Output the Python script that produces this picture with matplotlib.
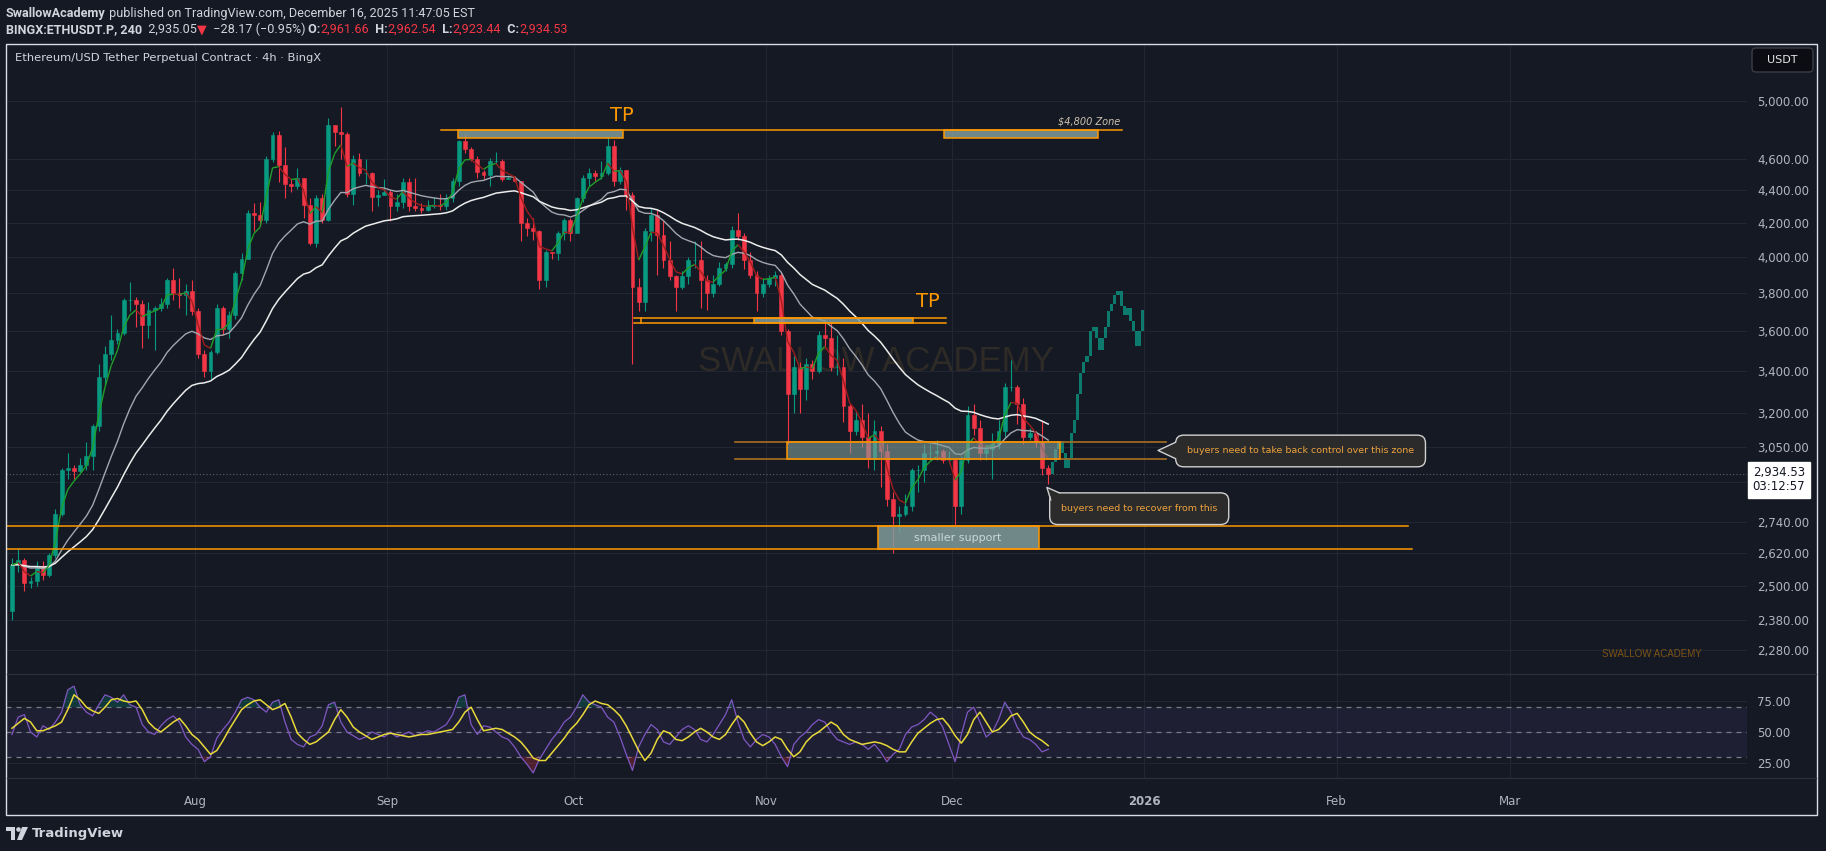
import matplotlib
matplotlib.use("Agg")
import matplotlib.pyplot as plt
import matplotlib.dates as mdates
import matplotlib.transforms as mtransforms
from matplotlib.patches import Rectangle, Polygon, FancyBboxPatch, Circle
from matplotlib.lines import Line2D
from matplotlib.collections import LineCollection
from matplotlib.ticker import FixedLocator, FixedFormatter, NullLocator
import numpy as np
import pandas as pd

W, H, DPI = 1826, 851, 100
BG = "#151924"
GRID = "#222632"
AXTXT = "#b2b5be"
UP, DOWN = "#089981", "#f23645"
ORANGE = "#ff9800"

### DATA (daily candles, EST, 2025-07-02 .. 2025-12-16)
first_open = 2410
closes = [2575, 2595, 2510, 2515, 2570, 2540, 2610, 2770, 2950, 2960, 2945, 2970, 3010, 3140, 3370,
          3480, 3550, 3590, 3760, 3760, 3740, 3630, 3710, 3720, 3740, 3870, 3800, 3790, 3810, 3700,
          # Aug
          3480, 3400, 3490, 3720, 3610, 3680, 3910, 3990, 4260, 4250, 4220, 4600, 4760, 4560, 4440, 4430,
          4480, 4310, 4080, 4350, 4220, 4830, 4780, 4770, 4380, 4600, 4510, 4510, 4360, 4370, 4390,
          # Sep
          4300, 4330, 4450, 4300, 4290, 4280, 4300, 4310, 4300, 4350, 4460, 4720, 4670, 4600, 4520,
          4500, 4590, 4590, 4470, 4480, 4460, 4200, 4170, 4150, 3870, 4030, 4020, 4140, 4220, 4140,
          # Oct
          4350, 4480, 4510, 4490, 4510, 4690, 4460, 4530, 4370, 3830, 3750, 4150, 4250, 4130, 3980, 3890,
          3830, 3890, 3980, 3980, 3870, 3800, 3850, 3940, 3960, 4160, 4120, 3980, 3900, 3800, 3850,
          # Nov
          3880, 3900, 3600, 3290, 3420, 3310, 3430, 3400, 3580, 3560, 3420, 3420, 3230, 3120, 3170,
          3090, 3000, 3120, 3030, 2830, 2760, 2770, 2800, 2950, 2950, 3020, 3020, 3030, 2990, 2990,
          # Dec
          2800, 2990, 3190, 3130, 3020, 3040, 3060, 3120, 3320, 3320, 3240, 3090, 3110, 3070, 2960, 2934.53]
highs = [2600, 2640, 2600, 2530, 2590, 2590, 2620, 2790, 2960, 3020, 2970, 3000, 3070, 3150, 3430,
         3520, 3680, 3610, 3770, 3860, 3780, 3760, 3750, 3730, 3770, 3880, 3940, 3880, 3850, 3870,
         3720, 3500, 3500, 3740, 3730, 3700, 3920, 4020, 4280, 4320, 4330, 4620, 4780, 4790, 4680, 4470,
         4540, 4480, 4350, 4370, 4380, 4880, 4830, 4960, 4780, 4630, 4640, 4600, 4520, 4400, 4470,
         4400, 4380, 4480, 4480, 4480, 4320, 4340, 4360, 4380, 4380, 4480, 4730, 4770, 4680, 4620,
         4530, 4610, 4650, 4600, 4500, 4490, 4460, 4230, 4230, 4160, 4040, 4030, 4150, 4230, 4230,
         4360, 4500, 4540, 4530, 4590, 4750, 4730, 4550, 4530, 4390, 3880, 4170, 4290, 4280, 4210, 4090,
         3900, 3920, 4000, 4090, 4090, 3900, 3900, 3970, 3970, 4180, 4260, 4140, 4030, 3920, 3880,
         3900, 3920, 3910, 3610, 3470, 3440, 3460, 3450, 3600, 3660, 3640, 3580, 3460, 3240, 3210,
         3240, 3200, 3170, 3140, 3060, 2860, 2800, 2850, 2960, 2970, 3060, 3060, 3080, 3040, 3030,
         3000, 3010, 3230, 3240, 3170, 3060, 3110, 3170, 3340, 3450, 3330, 3270, 3130, 3120, 3170, 2970]
lows = [2380, 2550, 2480, 2490, 2500, 2520, 2530, 2600, 2760, 2910, 2910, 2940, 2950, 2950, 3120,
        3330, 3450, 3530, 3580, 3700, 3620, 3510, 3560, 3500, 3700, 3720, 3760, 3720, 3680, 3680,
        3460, 3370, 3360, 3480, 3580, 3560, 3660, 3870, 3990, 4150, 4180, 4200, 4580, 4450, 4350, 4390,
        4410, 4230, 4070, 4060, 4200, 4210, 4690, 4600, 4360, 4310, 4490, 4440, 4270, 4300, 4370,
        4210, 4270, 4290, 4270, 4270, 4260, 4270, 4290, 4280, 4280, 4330, 4430, 4640, 4590, 4480,
        4470, 4430, 4570, 4460, 4470, 4450, 4090, 4120, 4100, 3820, 3830, 3990, 3980, 4100, 4090,
        4140, 4330, 4430, 4450, 4470, 4500, 4430, 4440, 4280, 3430, 3700, 3700, 4090, 3900, 3940, 3870,
        3700, 3820, 3850, 3940, 3720, 3710, 3780, 3840, 3920, 3940, 4100, 3930, 3880, 3700, 3780,
        3830, 3840, 3580, 3060, 3200, 3200, 3260, 3360, 3390, 3520, 3400, 3380, 3160, 3020, 3100,
        3050, 2960, 2950, 2880, 2800, 2620, 2700, 2760, 2780, 2860, 2900, 2990, 2990, 2980, 2980,
        2720, 2770, 2980, 3100, 2990, 2990, 2910, 3040, 3090, 3300, 3150, 3060, 3080, 3050, 2930, 2890]

# RSI (14) and its moving average, read per day from the lower pane
rsi = [48, 62, 64, 50, 46, 55, 52, 58, 66, 84, 87, 72, 66, 63, 72, 80, 78, 74, 80, 72,
       70, 56, 50, 48, 55, 60, 63, 58, 46, 40, 36, 26, 30, 45, 52, 58, 66, 76, 78, 76,
       70, 66, 74, 76, 58, 44, 40, 38, 46, 48, 55, 72, 74, 58, 50, 47, 44, 46, 50, 48,
       46, 50, 46, 48, 50, 47, 49, 51, 50, 53, 56, 64, 78, 80, 56, 48, 55, 54, 50, 46,
       44, 38, 30, 24, 17, 28, 36, 44, 50, 58, 62, 70, 80, 74, 72, 70, 62, 58, 46, 32,
       19, 38, 48, 56, 52, 42, 40, 46, 52, 55, 52, 44, 42, 48, 56, 64, 76, 58, 44, 38,
       44, 48, 46, 40, 30, 22, 40, 46, 50, 56, 60, 58, 50, 44, 42, 40, 42, 40, 36, 40,
       34, 26, 32, 36, 48, 54, 56, 60, 66, 62, 54, 40, 26, 48, 66, 70, 58, 46, 50, 60,
       74, 66, 54, 46, 44, 40, 34, 36]
rsi_ma = [53, 57, 61, 58, 51, 51, 53, 55, 58, 68, 80, 76, 70, 67, 65, 70, 76, 77, 75, 74,
          75, 68, 58, 53, 50, 54, 58, 61, 55, 48, 44, 38, 32, 35, 43, 52, 60, 68, 72, 75,
          76, 72, 68, 70, 73, 62, 49, 44, 40, 42, 46, 50, 60, 68, 62, 54, 50, 47, 44, 46,
          48, 49, 48, 47, 46, 47, 48, 48, 49, 50, 51, 52, 58, 66, 70, 60, 51, 52, 53, 52,
          49, 46, 42, 36, 29, 27, 27, 33, 39, 45, 52, 57, 64, 72, 75, 73, 72, 68, 63, 55,
          45, 35, 27, 33, 44, 51, 49, 44, 43, 46, 50, 53, 50, 46, 44, 48, 56, 63, 58, 49,
          42, 39, 42, 46, 44, 36, 30, 34, 42, 47, 50, 54, 58, 55, 48, 44, 42, 40, 41, 42,
          41, 39, 36, 34, 34, 42, 49, 53, 57, 60, 61, 55, 47, 41, 48, 60, 66, 58, 50, 52,
          57, 63, 65, 58, 50, 46, 43, 39]

# projected path (ghost feed), every 12h from the last close
ghost = [2934.53, 2985, 3040, 3075, 3020, 2960, 3000, 3110, 3170, 3290, 3390, 3440, 3470, 3600,
         3620, 3560, 3500, 3560, 3620, 3700, 3740, 3790, 3810, 3730, 3680, 3720, 3650, 3600,
         3520, 3600, 3710]

price_ticks = [5000, 4600, 4400, 4200, 4000, 3800, 3600, 3400, 3200, 3050, 2900, 2740, 2620, 2500, 2380, 2280]
price_labels = ["5,000.00", "4,600.00", "4,400.00", "4,200.00", "4,000.00", "3,800.00", "3,600.00",
                "3,400.00", "3,200.00", "3,050.00", "", "2,740.00", "2,620.00", "2,500.00",
                "2,380.00", "2,280.00"]
rsi_ticks = [25, 50, 75]
rsi_labels = ["25.00", "50.00", "75.00"]
month_starts = ["2025-08-01", "2025-09-01", "2025-10-01", "2025-11-01", "2025-12-01",
                "2026-01-01", "2026-02-01", "2026-03-01"]
month_labels = ["Aug", "Sep", "Oct", "Nov", "Dec", "2026", "Feb", "Mar"]
countdown = "03:12:57"


def T(s):
    return mdates.date2num(pd.Timestamp(s))


def fx(x):
    return x / W


def fy(y):
    return 1 - y / H


fig = plt.figure(figsize=(W / DPI, H / DPI), dpi=DPI, facecolor=BG)
ax = fig.add_axes([fx(6), fy(674), (1747 - 6) / W, (674 - 44) / H])
ax2 = fig.add_axes([fx(6), fy(778), (1747 - 6) / W, (778 - 674) / H], sharex=ax)

for a in (ax, ax2):
    a.set_facecolor(BG)
    for sp in a.spines.values():
        sp.set_visible(False)

aug1 = T("2025-08-01")
ax.set_xlim(aug1 - 30.46, aug1 + 250.12)
ax.set_yscale("log")
ax.set_ylim(2203.1, 5424.4)
ax2.set_ylim(12.9, 96.77)

# grid / ticks
ax.yaxis.set_major_locator(FixedLocator(price_ticks))
ax.yaxis.set_major_formatter(FixedFormatter(price_labels))
ax.yaxis.set_minor_locator(NullLocator())
ax.yaxis.tick_right()
ax.tick_params(axis="y", length=0, pad=7.2, labelsize=8.5, labelcolor=AXTXT)
ax.tick_params(axis="x", length=0, labelbottom=False)
ax.set_xticks(mdates.date2num(pd.to_datetime(month_starts)))
ax.grid(True, color=GRID, lw=0.8, zorder=0)
ax.set_axisbelow(True)

ax2.set_xticks(mdates.date2num(pd.to_datetime(month_starts)))
ax2.set_xticklabels(month_labels)
ax2.tick_params(axis="x", length=0, pad=12.5, labelsize=8.5, labelcolor=AXTXT)
ax2.get_xticklabels()[5].set_fontweight("bold")
ax2.yaxis.tick_right()
ax2.set_yticks(rsi_ticks)
ax2.set_yticklabels(rsi_labels)
ax2.tick_params(axis="y", length=0, pad=7.2, labelsize=8.5, labelcolor=AXTXT)
ax2.grid(True, color=GRID, lw=0.8, zorder=0)
ax2.set_axisbelow(True)

# candles
dates = pd.date_range("2025-07-02", periods=len(closes), freq="D")
xc = mdates.date2num(dates) + 0.5
c = np.array(closes, float)
o = np.r_[first_open, c[:-1]]
cols = np.where(c >= o, UP, DOWN)
ax.vlines(xc, lows, highs, colors=cols, lw=0.8, zorder=3)
ax.bar(xc, np.abs(c - o), bottom=np.minimum(o, c), width=0.62, color=cols,
       edgecolor=cols, linewidth=0.4, zorder=4)


# EMAs (4h lengths expressed on daily bars)
def ema(vals, n4h):
    a = 1 - (1 - 2 / (n4h + 1)) ** 6
    return pd.Series(vals).ewm(alpha=a, adjust=False).mean().values


e20, e100, e200 = ema(c, 20), ema(c, 100), ema(c, 200)
ax.plot(xc, e100, color="#a3a6ae", lw=1.0, zorder=5)
ax.plot(xc, e200, color="#ececec", lw=1.1, zorder=5)
pts = np.column_stack([xc, e20])
segs = [pts[i:i + 2] for i in range(len(pts) - 1)]
segc = ["#1f9e2a" if e20[i + 1] >= e20[i] else "#9e1c1c" for i in range(len(pts) - 1)]
ax.add_collection(LineCollection(segs, colors=segc, linewidths=1.0, zorder=5))

# ghost projection
gx = mdates.date2num(pd.date_range("2025-12-16 12:00", periods=len(ghost), freq="12h")) + 0.25
g = np.array(ghost)
ax.bar(gx[1:], np.abs(g[1:] - g[:-1]), bottom=np.minimum(g[1:], g[:-1]), width=0.5,
       color="#0a9b86", alpha=0.75, linewidth=0, zorder=4)

# watermark
ax.text(T("2025-11-18 18:00"), 3446, "SWALLOW ACADEMY", fontfamily="Liberation Sans", fontsize=25,
        color="#2e2b27", ha="center", va="center", zorder=1)

# current price line + label
last = closes[-1]
ax.axhline(last, color="#5d606b", lw=0.8, ls=(0, (1, 2)), zorder=2)
ax.annotate(f"{last:,.2f}\n{countdown}", xy=(1, last), xycoords=("axes fraction", "data"),
            xytext=(5.7, -6), textcoords="offset pixels", ha="left", va="center", fontsize=8.5,
            color="#131722", linespacing=1.05, annotation_clip=False, zorder=20,
            bbox=dict(boxstyle="square,pad=0.4", fc="white", ec="white"))

ZFILL = "#819e9a"


def zone(x0, x1, p0, p1, edge=ORANGE, alpha=0.6):
    ax.add_patch(Rectangle((x0, p0), x1 - x0, p1 - p0, fc=ZFILL, alpha=alpha, lw=0, zorder=6))
    ax.add_patch(Rectangle((x0, p0), x1 - x0, p1 - p0, fill=False, ec=edge, lw=1.1, zorder=6.5))


# top TP zone
ax.plot([T("2025-09-09 14:00"), T("2025-12-28 10:00")], [4800, 4800], color=ORANGE, lw=1.1, zorder=6.5)
zone(T("2025-09-12 10:00"), T("2025-10-09 00:00"), 4745, 4800, alpha=0.85)
zone(T("2025-11-29 17:00"), T("2025-12-24 12:00"), 4745, 4800, alpha=0.85)
ax.text(T("2025-10-08 19:00"), 4900, "TP", color=ORANGE, fontsize=14, ha="center", va="center", zorder=7)
ax.text(T("2025-12-28 02:00"), 4858, "$4,800 Zone", color="#cdc3b0", fontsize=7, style="italic",
        ha="right", va="center", zorder=7)

# second TP zone
for p in (3668, 3641):
    ax.plot([T("2025-10-10 17:00"), T("2025-11-30 00:00")], [p, p], color=ORANGE, lw=1.1, zorder=6.5)
ax.plot([T("2025-10-11 22:00")] * 2, [3641, 3668], color=ORANGE, lw=1.1, zorder=6.5)
zone(T("2025-10-30 02:00"), T("2025-11-24 17:00"), 3641, 3668, alpha=0.85)
ax.text(T("2025-11-27 02:00"), 3751, "TP", color=ORANGE, fontsize=14, ha="center", va="center", zorder=7)

# buyers zone
for p in (3070, 2998):
    ax.plot([T("2025-10-27 00:00"), T("2026-01-04 12:00")], [p, p], color="#a86f1e", lw=1.2, zorder=6.5)
zone(T("2025-11-04 10:00"), T("2025-12-18 10:00"), 2998, 3070)

# smaller support
x_left = ax.get_xlim()[0]
ax.plot([x_left, T("2026-02-12 12:00")], [2722, 2722], color=ORANGE, lw=1.1, zorder=6.5)
ax.plot([x_left, T("2026-02-13 02:00")], [2635, 2635], color=ORANGE, lw=1.1, zorder=6.5)
zone(T("2025-11-19 02:00"), T("2025-12-15 02:00"), 2635, 2722, alpha=0.85)
ax.text(T("2025-12-01 22:00"), 2676, "smaller support", color="#c9d7d7", fontsize=8,
        ha="center", va="center", zorder=7)

CALL_BG, CALL_EDGE, CALL_TXT = "#2b2b2c", "#d0d0d0", "#eda23c"


def callout(tip_date, tip_price, text, offset, fill_poly, edge_line):
    xt = T(tip_date)
    ax.annotate(text, xy=(xt, tip_price), xytext=offset, textcoords="offset pixels",
                ha="center", va="center", fontsize=6.8, color=CALL_TXT, zorder=8,
                annotation_clip=False,
                bbox=dict(boxstyle="round,pad=1.2,rounding_size=0.85", fc=CALL_BG, ec=CALL_EDGE, lw=1.0))
    tr = mtransforms.Affine2D().scale(1, -1) + mtransforms.ScaledTranslation(xt, tip_price, ax.transData)
    ax.add_patch(Polygon(fill_poly, closed=True, fc=CALL_BG, ec="none", transform=tr, zorder=9,
                         clip_on=False))
    ex, ey = zip(*edge_line)
    ax.add_line(Line2D(ex, ey, color=CALL_EDGE, lw=1.0, transform=tr, zorder=9.5, clip_on=False))


callout("2026-01-03 05:00", 3033, "buyers need to take back control over this zone", (142.5, -0.5),
        [(0, 0), (22, -10.5), (22, 10.5)], [(17.5, -8.2), (0, 0), (17.5, 8.2)])
callout("2025-12-16 07:00", 2877, "buyers need to recover from this", (92.3, -21.3),
        [(0, 0), (13.5, 6.3), (13.5, 14.5), (5.5, 14.5)], [(12.8, 5.6), (0, 0), (3.8, 12.5)])

# RSI pane
xr = xc
ax2.axhspan(30, 70, color="#7e57c2", alpha=0.1, lw=0, zorder=1)
for lvl in (70, 50, 30):
    ax2.axhline(lvl, color="#787b86", lw=0.9, ls=(0, (4, 4)), zorder=2)
r = np.array(rsi, float)
ax2.fill_between(xr, 70, r, where=r > 70, interpolate=True, color="#089981", alpha=0.25, lw=0, zorder=2)
ax2.fill_between(xr, 30, r, where=r < 30, interpolate=True, color="#f23645", alpha=0.25, lw=0, zorder=2)
ax2.plot(xr, r, color="#7e57c2", lw=0.9, zorder=3)
ax2.plot(xr, rsi_ma, color="#e8d93a", lw=1.1, zorder=4)

# frame, separators and chrome (pixel coordinates)
ID = mtransforms.IdentityTransform()
fig.add_artist(Rectangle((6, H - 815), 1811, 771, fill=False, ec="#d9dce3", lw=1.0, transform=ID))
for yy in (674, 778):
    fig.add_artist(Line2D([7, 1816], [H - yy, H - yy], color="#2a2e39", lw=1.0, transform=ID))

fig.add_artist(FancyBboxPatch((1752, H - 72), 61, 24, boxstyle="round,pad=0,rounding_size=4",
                              fc="#0b0d12", ec="#3b3e47", lw=1.0, transform=ID))
fig.text(fx(1782.5), fy(60), "USDT", color="#e6e8ee", fontsize=8, ha="center", va="center")

fig.text(fx(15), fy(58), "Ethereum/USD Tether Perpetual Contract \u00b7 4h \u00b7 BingX", color="#d1d4dc",
         fontsize=8.25, ha="left", va="center")
fig.text(fx(1652), fy(654), "SWALLOW ACADEMY", fontfamily="Liberation Sans", fontsize=7,
         color="#7d5416", ha="center", va="center")


def chain(x, y, pieces, size, family):
    t0, c0, w0 = pieces[0]
    prev = fig.text(fx(x), fy(y), t0, color=c0, fontweight=w0, fontsize=size, family=family,
                    ha="left", va="center")
    for txt, col, wt in pieces[1:]:
        prev = ax.annotate(txt, xy=(1, 0), xycoords=prev, ha="left", va="bottom", color=col,
                           fontweight=wt, fontsize=size, family=family, annotation_clip=False)


WH, RD = "#d1d4dc", "#f23645"
HF = ["Roboto", "DejaVu Sans"]
chain(6, 13.5, [("SwallowAcademy", WH, "bold"),
                (" published on TradingView.com, December 16, 2025 11:47:05 EST", WH, "normal")], 9.1, HF)
chain(6, 29.5, [("BINGX:ETHUSDT.P, 240", WH, "bold"), ("  2,935.05", WH, "normal"), ("\u25bc", RD, "normal"),
                ("  \u221228.17 (\u22120.95%)", WH, "normal"), (" O:", WH, "bold"), ("2,961.66", RD, "normal"),
                ("  H:", WH, "bold"), ("2,962.54", RD, "normal"), ("  L:", WH, "bold"),
                ("2,923.44", RD, "normal"), ("  C:", WH, "bold"), ("2,934.53", RD, "normal")], 9.1, HF)

# TradingView logo
LC = "#d1d4dc"
fig.add_artist(Rectangle((6, H - 831), 9, 4, fc=LC, ec="none", transform=ID))
fig.add_artist(Rectangle((11, H - 840), 4, 12, fc=LC, ec="none", transform=ID))
fig.add_artist(Circle((18.5, H - 829.5), 2.3, fc=LC, ec="none", transform=ID))
fig.add_artist(Polygon([(22, H - 827), (28, H - 827), (22, H - 840), (17, H - 840)], closed=True,
                       fc=LC, ec="none", transform=ID))
fig.text(fx(32), fy(833.5), "TradingView", color=LC, fontsize=9.5, fontweight="bold", ha="left", va="center")

fig.savefig("out.png", dpi=DPI, facecolor=BG)
